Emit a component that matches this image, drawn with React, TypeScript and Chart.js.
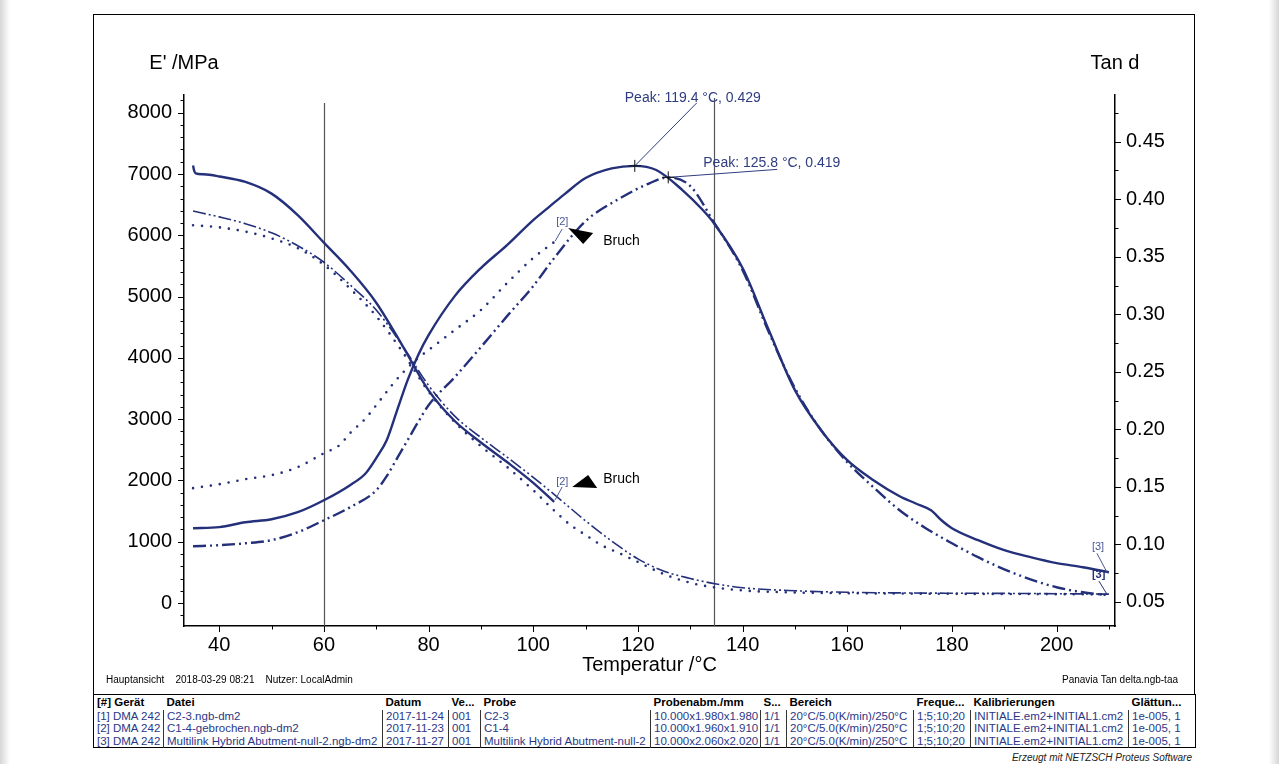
import React, { useEffect, useRef } from "react";
import { Chart, registerables } from "chart.js";

Chart.register(...registerables);

const FONT = '"Liberation Sans", Arial, Helvetica, sans-serif';
const NAVY = "#24307a";
const LABEL_BLUE = "#4a5796";
const TEXT_BLUE = "#2f3c80";

// axis ranges
const TEMP_MIN = 33.27;
const TEMP_MAX = 211.16;
const E_MIN = -375;
const E_MAX = 8289;
const TAN_MIN = 0.0291;
const TAN_MAX = 0.4906;

// tick labels
const tempTicks = [40, 60, 80, 100, 120, 140, 160, 180, 200];
const eTicks = [0, 1000, 2000, 3000, 4000, 5000, 6000, 7000, 8000];
const tanTicks = [0.05, 0.1, 0.15, 0.2, 0.25, 0.3, 0.35, 0.4, 0.45];

// vertical marker lines (°C)
const markerTemps = [60, 134.5];

// E' /MPa curves
const eSolidT = [35.0, 35.2, 35.5, 37, 40, 45, 50, 55, 60, 65, 70, 75, 80, 85, 90, 95, 100, 104];
const eSolidV = [7140, 7060, 7010, 6995, 6960, 6870, 6680, 6330, 5880, 5430, 4900, 4200, 3470, 2970, 2620, 2300, 1960, 1650];

const eDashDotT = [35, 40, 45, 50, 55, 60, 65, 70, 75, 80, 85, 90, 95, 100, 105, 110, 115, 120, 125, 130, 135, 140, 150, 160, 170, 180, 190, 200, 210];
const eDashDotV = [6395, 6300, 6190, 6040, 5830, 5560, 5190, 4780, 4200, 3550, 3050, 2700, 2380, 2050, 1700, 1340, 1010, 720, 520, 400, 310, 250, 200, 175, 165, 160, 157, 152, 145];

const eDottedT = [35, 40, 45, 50, 55, 60, 65, 70, 75, 80, 85, 90, 95, 100, 104, 107, 110, 113, 116, 120, 125, 130, 135, 140, 150, 160, 170, 180, 190, 200, 210];
const eDottedV = [6165, 6130, 6060, 5950, 5790, 5520, 5130, 4680, 4100, 3450, 2950, 2560, 2220, 1840, 1510, 1280, 1110, 945, 830, 670, 470, 330, 250, 205, 172, 160, 155, 150, 147, 145, 140];

// Tan d curves
const tanSolidT = [35, 40, 45, 50, 55, 60, 65, 68, 70, 72, 74, 76, 78, 80, 85, 90, 95, 100, 103, 106, 110, 115, 119.4, 123.5, 128.5, 132.4, 134.5, 140, 145, 150, 155, 160, 165, 170, 173, 176, 178, 180, 185, 190, 195, 200, 205, 210];
const tanSolidV = [0.1141, 0.115, 0.1193, 0.1219, 0.128, 0.1384, 0.1515, 0.1619, 0.175, 0.1906, 0.2167, 0.2428, 0.2645, 0.2819, 0.3158, 0.3402, 0.3602, 0.3819, 0.3932, 0.4045, 0.4184, 0.4268, 0.429, 0.4254, 0.408, 0.3906, 0.3793, 0.3402, 0.2863, 0.2341, 0.1993, 0.1732, 0.1558, 0.1419, 0.1358, 0.1297, 0.121, 0.1141, 0.1037, 0.095, 0.0889, 0.0837, 0.0802, 0.0758];

const tanDashDotT = [35, 40, 45, 50, 55, 60, 65, 70, 72, 74, 76, 78, 80, 85, 90, 95, 100, 104, 110, 116, 122.3, 125.8, 130, 134.5, 140, 145, 150, 155, 160, 165, 170, 175, 180, 185, 190, 195, 200, 205, 210];
const tanDashDotV = [0.0984, 0.0993, 0.101, 0.1037, 0.1106, 0.121, 0.1323, 0.147, 0.1593, 0.175, 0.1906, 0.2063, 0.221, 0.2454, 0.2715, 0.2984, 0.3245, 0.3489, 0.381, 0.3993, 0.4141, 0.419, 0.4115, 0.3802, 0.3384, 0.2845, 0.2358, 0.1993, 0.1715, 0.1497, 0.1297, 0.1141, 0.101, 0.0889, 0.0784, 0.0697, 0.0628, 0.0584, 0.0558];

const tanDottedT = [35, 40, 45, 50, 55, 60, 63, 65, 68, 70, 73, 75, 78, 80, 85, 90, 95, 100, 104];
const tanDottedV = [0.1489, 0.1523, 0.1567, 0.1602, 0.1671, 0.1793, 0.1863, 0.1967, 0.2097, 0.221, 0.2384, 0.2489, 0.2619, 0.2689, 0.2863, 0.3037, 0.3271, 0.3489, 0.3628];

// peak annotations
const peakTemps = [119.4, 125.8];
const peakValues = [0.429, 0.419];
const peakTexts = ["Peak: 119.4 °C, 0.429", "Peak: 125.8 °C, 0.419"];

// info table
const tableHeader = ["[#] Gerät", "Datei", "Datum", "Ve...", "Probe", "Probenabm./mm", "S...", "Bereich", "Freque...", "Kalibrierungen", "Glättun..."];
const tableRows = [
  ["[1] DMA 242", "C2-3.ngb-dm2", "2017-11-24", "001", "C2-3", "10.000x1.980x1.980", "1/1", "20°C/5.0(K/min)/250°C", "1;5;10;20", "INITIALE.em2+INITIAL1.cm2", "1e-005, 1"],
  ["[2] DMA 242", "C1-4-gebrochen.ngb-dm2", "2017-11-23", "001", "C1-4", "10.000x1.960x1.910", "1/1", "20°C/5.0(K/min)/250°C", "1;5;10;20", "INITIALE.em2+INITIAL1.cm2", "1e-005, 1"],
  ["[3] DMA 242", "Multilink Hybrid Abutment-null-2.ngb-dm2", "2017-11-27", "001", "Multilink Hybrid Abutment-null-2", "10.000x2.060x2.020", "1/1", "20°C/5.0(K/min)/250°C", "1;5;10;20", "INITIALE.em2+INITIAL1.cm2", "1e-005, 1"],
];
const colWidths = [70, 219, 66, 32, 170, 110, 26, 127, 57, 158, 67];

function series(T: number[], V: number[], axis: string, style: any) {
  return {
    data: T.map((t, i) => ({ x: t, y: V[i] })),
    yAxisID: axis,
    borderColor: NAVY,
    backgroundColor: NAVY,
    pointRadius: 0,
    fill: false,
    cubicInterpolationMode: "monotone",
    ...style,
  };
}

const SOLID = { borderWidth: 2.4 };
const DOTTED = { borderWidth: 2.6, borderDash: [0, 9], borderCapStyle: "round" };
const DASHDOT_E = { borderWidth: 1.6, borderDash: [13, 3, 2, 3, 2, 3] };
const DASHDOT_T = { borderWidth: 2.4, borderDash: [13, 4, 2, 4, 2, 4] };

const last = (a: number[]) => a[a.length - 1];

const decor = {
  id: "decor",
  beforeDatasetsDraw(chart: any) {
    const { ctx, chartArea: ca, scales } = chart;
    ctx.save();
    ctx.strokeStyle = "#555";
    ctx.lineWidth = 1.2;
    markerTemps.forEach((t, i) => {
      const px = Math.round(scales.x.getPixelForValue(t)) + 0.5;
      ctx.beginPath();
      ctx.moveTo(px, ca.top + (i === 0 ? 8 : 3));
      ctx.lineTo(px, ca.bottom);
      ctx.stroke();
    });
    ctx.restore();
  },
  afterDraw(chart: any) {
    const { ctx, chartArea: ca, scales } = chart;
    const { x, y, y1 } = scales;
    ctx.save();
    // tick marks
    ctx.strokeStyle = "#000";
    ctx.lineWidth = 1;
    ctx.beginPath();
    for (let t = 40; t <= 210; t += 10) {
      const px = Math.round(x.getPixelForValue(t)) + 0.5;
      const len = t % 20 === 0 ? 6 : 3.5;
      ctx.moveTo(px, ca.bottom);
      ctx.lineTo(px, ca.bottom + len);
    }
    for (let v = -200; v <= 8200; v += 200) {
      const py = Math.round(y.getPixelForValue(v)) + 0.5;
      const len = v % 1000 === 0 ? 6 : 3.5;
      ctx.moveTo(ca.left, py);
      ctx.lineTo(ca.left - len, py);
    }
    for (let k = 1; k <= 19; k++) {
      const v = k * 0.025;
      if (v < TAN_MIN || v > TAN_MAX) continue;
      const py = Math.round(y1.getPixelForValue(v)) + 0.5;
      const len = k % 2 === 0 ? 6 : 3.5;
      ctx.moveTo(ca.right, py);
      ctx.lineTo(ca.right + len, py);
    }
    ctx.stroke();

    // axis titles
    ctx.fillStyle = "#000";
    ctx.font = `20px ${FONT}`;
    ctx.textAlign = "center";
    ctx.textBaseline = "alphabetic";
    ctx.fillText("E' /MPa", ca.left, 69);
    ctx.fillText("Tan d", ca.right, 69);
    ctx.fillText("Temperatur /°C", (ca.left + ca.right) / 2, 671);

    // peaks
    const peakOffsets = [
      { lx: -10, ly: -64, sx: 62, sy: -63 },
      { lx: 35, ly: -10, sx: 109, sy: -8 },
    ];
    peakTemps.forEach((t, i) => {
      const px = x.getPixelForValue(t);
      const py = y1.getPixelForValue(peakValues[i]);
      const o = peakOffsets[i];
      ctx.strokeStyle = TEXT_BLUE;
      ctx.lineWidth = 1;
      ctx.beginPath();
      ctx.moveTo(px + o.sx, py + o.sy);
      ctx.lineTo(px, py);
      ctx.stroke();
      ctx.strokeStyle = "#111";
      ctx.beginPath();
      ctx.moveTo(px - 6, py);
      ctx.lineTo(px + 6, py);
      ctx.moveTo(px, py - 6);
      ctx.lineTo(px, py + 6);
      ctx.stroke();
      ctx.fillStyle = TEXT_BLUE;
      ctx.font = `14px ${FONT}`;
      ctx.textAlign = "left";
      ctx.textBaseline = "alphabetic";
      ctx.fillText(peakTexts[i], px + o.lx, py + o.ly);
    });

    // fracture ("Bruch") markers of sample [2]
    const bruch = [
      { px: x.getPixelForValue(last(tanDottedT)), py: y1.getPixelForValue(last(tanDottedV)),
        tri: [[14, -14], [39, -9], [29, 2]], tx: 49, ty: -1, lx: 2, ly: -20, l1: [8, -13], l2: [1, -1] },
      { px: x.getPixelForValue(last(eSolidT)), py: y.getPixelForValue(last(eSolidV)),
        tri: [[18, -15], [34, -27], [43, -14]], tx: 49, ty: -23, lx: 2, ly: -20, l1: [8, -15], l2: [1, -2] },
    ];
    bruch.forEach((b) => {
      ctx.fillStyle = "#000";
      ctx.beginPath();
      ctx.moveTo(b.px + b.tri[0][0], b.py + b.tri[0][1]);
      ctx.lineTo(b.px + b.tri[1][0], b.py + b.tri[1][1]);
      ctx.lineTo(b.px + b.tri[2][0], b.py + b.tri[2][1]);
      ctx.closePath();
      ctx.fill();
      ctx.font = `14px ${FONT}`;
      ctx.textAlign = "left";
      ctx.textBaseline = "middle";
      ctx.fillText("Bruch", b.px + b.tx, b.py + b.ty);
      ctx.fillStyle = LABEL_BLUE;
      ctx.font = `11px ${FONT}`;
      ctx.fillText("[2]", b.px + b.lx, b.py + b.ly);
      ctx.strokeStyle = LABEL_BLUE;
      ctx.lineWidth = 1;
      ctx.beginPath();
      ctx.moveTo(b.px + b.l1[0], b.py + b.l1[1]);
      ctx.lineTo(b.px + b.l2[0], b.py + b.l2[1]);
      ctx.stroke();
    });

    // end labels of sample [3]
    const ends = [
      { px: x.getPixelForValue(last(tanSolidT)), py: y1.getPixelForValue(last(tanSolidV)), lx: -17, ly: -25.5, l1: [-12, -19], bold: false },
      { px: x.getPixelForValue(last(eDashDotT)), py: y.getPixelForValue(last(eDashDotV)), lx: -17, ly: -19, l1: [-10, -13], bold: true },
    ];
    ends.forEach((e) => {
      ctx.font = `${e.bold ? "bold " : ""}11px ${FONT}`;
      ctx.fillStyle = e.bold ? NAVY : LABEL_BLUE;
      ctx.textAlign = "left";
      ctx.textBaseline = "middle";
      ctx.fillText("[3]", e.px + e.lx, e.py + e.ly);
      ctx.strokeStyle = e.bold ? NAVY : LABEL_BLUE;
      ctx.lineWidth = 1;
      ctx.beginPath();
      ctx.moveTo(e.px + e.l1[0], e.py + e.l1[1]);
      ctx.lineTo(e.px - 2, e.py);
      ctx.stroke();
    });
    ctx.restore();
  },
};

function ChartCanvas() {
  const ref = useRef<HTMLCanvasElement | null>(null);
  useEffect(() => {
    if (!ref.current) return;
    const tickFont = { family: FONT, size: 20 };
    const chart = new Chart(ref.current, {
      type: "line",
      data: {
        datasets: [
          series(eSolidT, eSolidV, "y", SOLID),
          series(eDashDotT, eDashDotV, "y", DASHDOT_E),
          series(eDottedT, eDottedV, "y", DOTTED),
          series(tanSolidT, tanSolidV, "y1", SOLID),
          series(tanDashDotT, tanDashDotV, "y1", DASHDOT_T),
          series(tanDottedT, tanDottedV, "y1", DOTTED),
        ] as any,
      },
      options: {
        animation: false,
        responsive: false,
        events: [],
        layout: { padding: { top: 95, left: 0, right: 0, bottom: 0 } },
        plugins: { legend: { display: false }, tooltip: { enabled: false } },
        scales: {
          x: {
            type: "linear",
            position: "bottom",
            min: TEMP_MIN,
            max: TEMP_MAX,
            grid: { display: false, drawTicks: false },
            border: { display: true, color: "#000", width: 1.5 },
            ticks: { font: tickFont, color: "#000", padding: 7, maxRotation: 0, autoSkip: false, callback: (v: any) => String(v) },
            afterBuildTicks: (s: any) => { s.ticks = tempTicks.map((v) => ({ value: v })); },
            afterFit: (s: any) => { s.height = 68; },
          },
          y: {
            type: "linear",
            position: "left",
            min: E_MIN,
            max: E_MAX,
            grid: { display: false, drawTicks: false },
            border: { display: true, color: "#000", width: 1.5 },
            ticks: { font: tickFont, color: "#000", padding: 12, callback: (v: any) => String(v) },
            afterBuildTicks: (s: any) => { s.ticks = eTicks.map((v) => ({ value: v })); },
            afterFit: (s: any) => { s.width = 184; },
          },
          y1: {
            type: "linear",
            position: "right",
            min: TAN_MIN,
            max: TAN_MAX,
            grid: { display: false, drawTicks: false },
            border: { display: true, color: "#000", width: 1.5 },
            ticks: { font: tickFont, color: "#000", padding: 11, callback: (v: any) => Number(v).toFixed(2) },
            afterBuildTicks: (s: any) => { s.ticks = tanTicks.map((v) => ({ value: v })); },
            afterFit: (s: any) => { s.width = 164; },
          },
        },
      } as any,
      plugins: [decor],
    });
    return () => chart.destroy();
  }, []);
  return <canvas ref={ref} width={1279} height={694} style={{ position: "absolute", left: 0, top: 0, width: 1279, height: 694 }} />;
}

export default function App() {
  const cell = (i: number, header: boolean): React.CSSProperties => ({
    padding: "0 0 0 3px",
    whiteSpace: "nowrap",
    overflow: "hidden",
    textAlign: "left",
    fontWeight: header ? "bold" : "normal",
    color: header ? "#000" : "#2a3787",
    borderLeft: !header && i > 0 ? "1px solid #333" : "none",
    lineHeight: "12px",
  });
  return (
    <div style={{ position: "fixed", left: 0, top: 0, width: 1279, height: 764, background: "#fff", overflow: "hidden", fontFamily: FONT }}>
      <div style={{ position: "absolute", left: 0, top: 0, width: 10, height: 764, background: "linear-gradient(to right, #d6d6d6, #ffffff)" }} />
      <div style={{ position: "absolute", right: 0, top: 0, width: 10, height: 764, background: "linear-gradient(to left, #d6d6d6, #ffffff)" }} />
      <div style={{ position: "absolute", left: 93, top: 14, width: 1102, height: 681, border: "1px solid #000", boxSizing: "border-box" }} />
      <ChartCanvas />
      <div style={{ position: "absolute", left: 106, top: 674, fontSize: 10, color: "#000", whiteSpace: "pre" }}>
        {"Hauptansicht    2018-03-29 08:21    Nutzer: LocalAdmin"}
      </div>
      <div style={{ position: "absolute", right: 1279 - 1178, top: 674, fontSize: 10, color: "#000", whiteSpace: "pre" }}>
        Panavia Tan delta.ngb-taa
      </div>
      <table
        style={{
          position: "absolute",
          left: 93,
          top: 694,
          width: 1102,
          borderCollapse: "collapse",
          tableLayout: "fixed",
          border: "1.5px solid #000",
          fontSize: 11.5,
          fontFamily: FONT,
        }}
      >
        <colgroup>
          {colWidths.map((w, i) => (
            <col key={i} style={{ width: w }} />
          ))}
        </colgroup>
        <tbody>
          <tr style={{ height: 15 }}>
            {tableHeader.map((h, i) => (
              <td key={i} style={cell(i, true)}>{h}</td>
            ))}
          </tr>
          {tableRows.map((r, ri) => (
            <tr key={ri} style={{ height: 12.5 }}>
              {r.map((c, i) => (
                <td key={i} style={cell(i, false)}>{c}</td>
              ))}
            </tr>
          ))}
        </tbody>
      </table>
      <div style={{ position: "absolute", right: 1279 - 1192, top: 752, fontSize: 10, fontStyle: "italic", color: "#222", whiteSpace: "pre" }}>
        Erzeugt mit NETZSCH Proteus Software
      </div>
    </div>
  );
}
